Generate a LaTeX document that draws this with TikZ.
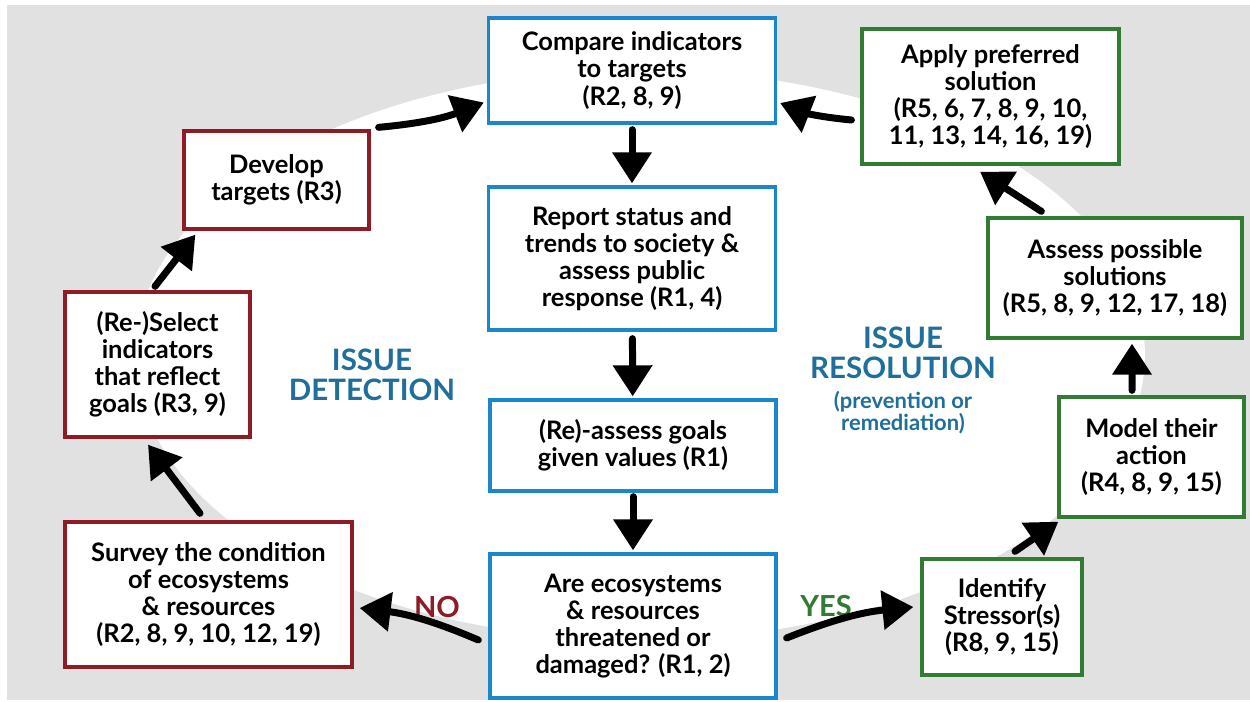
\documentclass[tikz,border=0pt]{standalone}
\usepackage{fontspec}
\setmainfont{Lato}
\usetikzlibrary{arrows.meta,positioning}
\definecolor{CycleBlue}{HTML}{1A86CC}
\definecolor{CycleRed}{HTML}{8E1B25}
\definecolor{CycleGreen}{HTML}{337A35}
\definecolor{CycleInk}{HTML}{1F6E9C}
\definecolor{CycleGrey}{HTML}{E1E1E1}
\tikzset{
  cyclebox/.style={
    draw,
    line width=1.9pt,
    fill=white,
    align=center,
    inner sep=2pt,
    font=\fontsize{14.5}{15.4}\selectfont\bfseries
  },
  watchbox/.style={cyclebox,draw=CycleBlue},
  detectbox/.style={cyclebox,draw=CycleRed},
  resolvebox/.style={cyclebox,draw=CycleGreen},
  cycleflow/.style={-{Triangle[length=0.62cm,width=0.76cm]},line width=0.14cm,line cap=round},
  phaselabel/.style={align=center,text=CycleInk,font=\fontsize{16.8}{16.8}\selectfont\bfseries}
}

\begin{document}
\begin{tikzpicture}[
  x=0.02cm, y=-0.02cm,
  sublabel/.style={align=center,text=CycleInk,font=\fontsize{12.5}{12.5}\selectfont\bfseries},
  answer/.style={font=\fontsize{16.5}{16.5}\selectfont\bfseries}
]
  \useasboundingbox (0,0) rectangle (1250,702);
  \fill[CycleGrey] (7,5) rectangle (1250,700);
  \fill[white] (640,355) ellipse [x radius=10.1cm, y radius=5.7cm];

  % centre column
  \node[watchbox,minimum width=5.74cm,minimum height=2.1cm] (compare) at (632,70.5) {Compare indicators\\to targets\\(R2, 8, 9)};
  \node[watchbox,minimum width=5.74cm,minimum height=2.86cm] (report) at (632,258.5) {Report status and\\trends to society \&\\assess public\\response (R1, 4)};
  \node[watchbox,minimum width=5.72cm,minimum height=1.82cm] (reassess) at (633,445.5) {(Re)-assess goals\\given values (R1)};
  \node[watchbox,minimum width=5.72cm,minimum height=2.88cm] (threat) at (633,626) {Are ecosystems\\\& resources\\threatened or\\damaged? (R1, 2)};

  % detection side
  \node[detectbox,minimum width=3.7cm,minimum height=1.96cm] (develop) at (276.5,180) {Develop\\targets (R3)};
  \node[detectbox,minimum width=3.7cm,minimum height=2.9cm] (select) at (157.5,364.5) {(Re-)Select\\indicators\\that reflect\\goals (R3, 9)};
  \node[detectbox,minimum width=5.74cm,minimum height=2.9cm] (survey) at (208.5,594.5) {Survey the condition\\of ecosystems\\\& resources\\(R2, 8, 9, 10, 12, 19)};

  % resolution side
  \node[resolvebox,minimum width=5.14cm,minimum height=2.7cm] (apply) at (990.5,96.5) {Apply preferred\\solution\\(R5, 6, 7, 8, 9, 10,\\11, 13, 14, 16, 19)};
  \node[resolvebox,minimum width=5.08cm,minimum height=2.4cm] (assess) at (1115,278) {Assess possible\\solutions\\(R5, 8, 9, 12, 17, 18)};
  \node[resolvebox,minimum width=3.7cm,minimum height=2.4cm] (model) at (1151.5,457) {Model their\\action\\(R4, 8, 9, 15)};
  \node[resolvebox,minimum width=3.2cm,minimum height=2.32cm] (identify) at (1002,617) {Identify\\Stressor(s)\\(R8, 9, 15)};

  \node[phaselabel] (detection) at (372,375) {ISSUE\\DETECTION};
  \node[phaselabel] (resolution) at (903,353) {ISSUE\\RESOLUTION};
  \node[sublabel,below=0pt of resolution] (remedy) {(prevention or\\remediation)};
  \node[answer,text=CycleRed] (no) at (437,607) {NO};
  \node[answer,text=CycleGreen] (yes) at (826,606) {YES};

  \draw[cycleflow] ([shift={(0.16cm,0.04cm)}]develop.north east) to[bend right=8] ([shift={(-0.06cm,-0.64cm)}]compare.west);
  \draw[cycleflow] ([shift={(-0.18cm,-0.47cm)}]apply.west) to[bend left=8] ([shift={(0.06cm,-0.65cm)}]compare.east);
  \draw[cycleflow,shorten <=0.1cm,shorten >=0.04cm] (compare) -- (report);
  \draw[cycleflow,shorten <=0.14cm,shorten >=0.04cm] (report) -- (reassess);
  \draw[cycleflow,shorten <=0.08cm,shorten >=0.04cm] (reassess) -- (threat);
  \draw[cycleflow] ([shift={(-0.2cm,-0.28cm)}]threat.west) to[bend right=8] ([shift={(0.12cm,-0.27cm)}]survey.east);
  \draw[cycleflow] ([shift={(0.18cm,-0.24cm)}]threat.east) to[bend left=8] ([shift={(-0.14cm,0.2cm)}]identify.west);
  \draw[cycleflow] ([shift={(0.26cm,0.12cm)}]identify.north) -- ([shift={(0.02cm,-0.06cm)}]model.south west);
  \draw[cycleflow] ([shift={(-0.39cm,0.1cm)}]model.north) -- ([shift={(0.34cm,-0.08cm)}]assess.south);
  \draw[cycleflow] ([shift={(1.1cm,0.1cm)}]assess.north west) -- ([shift={(-0.21cm,-0.12cm)}]apply.south);
  \draw[cycleflow] ([shift={(-0.17cm,0.14cm)}]survey.north) -- ([shift={(-0.19cm,-0.12cm)}]select.south);
  \draw[cycleflow] ([shift={(-0.05cm,0.08cm)}]select.north) -- ([shift={(0.26cm,-0.08cm)}]develop.south west);
\end{tikzpicture}
\end{document}
